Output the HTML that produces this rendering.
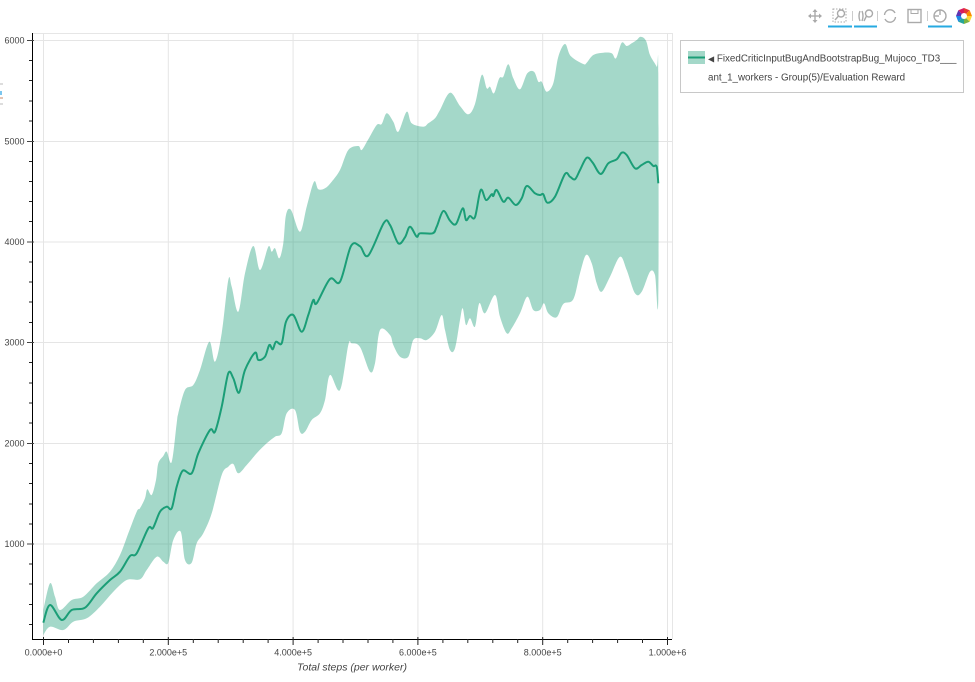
<!DOCTYPE html>
<html><head><meta charset="utf-8">
<style>
html,body{margin:0;padding:0;background:#fff;}
body{width:975px;height:682px;overflow:hidden;font-family:"Liberation Sans","DejaVu Sans",sans-serif;}
svg{display:block;}
</style></head>
<body>
<svg id="chart" width="975" height="682" viewBox="0 0 975 682" xmlns="http://www.w3.org/2000/svg">
<rect x="0" y="0" width="975" height="682" fill="#fff"/>
<!-- plot frame -->
<line x1="32" y1="33.5" x2="672" y2="33.5" stroke="#e6e6e6" stroke-width="1"/>
<line x1="672.5" y1="33" x2="672.5" y2="639" stroke="#e6e6e6" stroke-width="1"/>
<!-- grid -->
<g stroke="#e5e5e5" stroke-width="1">
<line x1="43.5" y1="33" x2="43.5" y2="639"/>
<line x1="168.3" y1="33" x2="168.3" y2="639"/>
<line x1="293.1" y1="33" x2="293.1" y2="639"/>
<line x1="417.9" y1="33" x2="417.9" y2="639"/>
<line x1="542.7" y1="33" x2="542.7" y2="639"/>
<line x1="667.5" y1="33" x2="667.5" y2="639"/>
<line x1="32" y1="40.5" x2="672" y2="40.5"/>
<line x1="32" y1="141.5" x2="672" y2="141.5"/>
<line x1="32" y1="242" x2="672" y2="242"/>
<line x1="32" y1="342.5" x2="672" y2="342.5"/>
<line x1="32" y1="443.5" x2="672" y2="443.5"/>
<line x1="32" y1="544" x2="672" y2="544"/>
</g>
<!-- band -->
<polygon class="smooth" data-closed="1" fill="#1b9e77" fill-opacity="0.4" points="
43.3,610 50,583.3 55,596.7 60,610 71.7,600 83.3,596.7 96.7,583.3 110,571.7 120,555 128.3,533.3 136.7,511.7 140,508.3 145,498.3 147.3,489.3 151.7,495 156,480 158.3,463.3 163.3,456 166.7,451.7 171.7,462 176.7,423.3 178.3,413.3 185,390 193.3,385 200,370 209.3,341.7 215,361.7 221.7,333.3 228.3,280 231.7,286.7 238.3,311.7 245,273.3 253.3,246 260,270 268.3,246.7 271.7,251.7 275,248.3 279.3,258.3 283.3,243.3 286,215 291,210 300,231.7 306.7,206.7 314,181.7 318.3,189.3 325,188.3 331.7,181.7 340,170 348.3,150 358.3,146 361.7,150 368.3,139.3 376.7,125 381.7,124 386.7,113.3 393.3,121.7 398.3,131.7 406.7,111.7 411.7,123.3 423.3,126.7 428.3,123.3 435,118.3 440,110 450,92.7 460,106 468.3,114.3 475,104 481.7,75 486.7,88.3 490,86.7 494,93.3 499.3,78.3 503.3,76.7 508.3,64.3 513.3,78.3 520,89.3 527.3,73.3 534,71.7 538.3,81.7 541.7,81.7 546.7,91.7 553.3,83.3 558.3,56.7 565,44 570.7,56 583.3,64 586.7,62.7 593.3,55 603.3,52.7 611.7,53.3 616,58.3 621.7,42.7 626.7,46 631.7,43.3 636.7,40 640.7,36.7 646,40.7 650,55 656.7,66.7 658.3,73.3
658.3,298.3 655,275 650,271.7 641.7,291.7 635,293.3 626.7,270 620,256.7 610,276.7 601.7,291.7 596.7,283.3 591.7,263.3 586,255 580,273.3 573.3,299.3 563.3,304 556.7,317.3 548.3,313.3 544,303.3 540,310 533.3,310 527.3,296.7 520,313.3 511.7,328.3 506.7,333.3 500,316.7 495,295 485,313.3 479.3,303.3 475,326.7 470,318.3 466,325 462.7,308.3 460,320 455,348.3 450,350 445,330 441.7,315 435,331.7 426.7,340 420,338.3 413.3,340 408.3,356.7 400,356.7 393.3,345 390,335 380,330 375,363.3 370,371.7 360,347 351.7,343.3 348.3,345 340,390 330,375 325,400 320,413.3 311.7,420 305,431.7 300,431.7 295,410 286.7,413.3 281.7,433.3 275,436.7 266.7,443.3 256.7,453.3 246.7,465 238.3,473.3 233.3,464 228.3,466.7 221.7,475 211.7,513.3 203.3,533.3 196.7,543.3 191.7,562.7 185,560 180.7,531.7 173.3,540 168.3,562.7 163.3,561.7 156.7,556.7 146.7,570 140,579.3 126.7,580 113.3,591.7 100,606.7 86.7,618.3 73.3,621.7 63.3,630 50,626.7 43.3,635"/>
<!-- mean line -->
<polyline class="smooth" fill="none" stroke="#1b9e77" stroke-width="2" stroke-linejoin="round" points="
43.3,622.7 50,605 61.7,620 71.7,610 85,607.7 96.7,593.3 110,580 120,571.7 130,556 136.7,553.3 148.3,528.3 153,528 160,511.7 166.7,506.7 171.7,508.3 176.7,486.7 182.7,470.7 191.7,473.3 198.3,453.3 210,430 215,431.7 221.7,406.7 228.3,373.3 233.3,378.3 239,392.7 245,370 255,352.7 258.3,360 265,356.7 269.3,345 272.7,349.3 276,341.7 281.7,343.3 286,321.7 293.3,315 301.7,331.7 308.3,315 313.3,300 316.7,303.3 330,279 340,281.7 351,246 360,246.3 368.3,255.5 384,222.7 390,225 398.3,243.3 405,237.3 410,226.7 416.7,236.7 420,233.3 432.7,233.3 436.7,226.7 443.3,211 450,220.7 456,224 462.7,208.3 466,220 470,216 475,217 480.7,190 486,200 491.7,194.3 493.3,196 496.7,190 503.3,201.7 508.3,197.7 515.7,205 521.7,198.3 526.7,186 535,193.3 540,195 543.3,194.3 547.3,202.7 555,196.7 565,174 570,176.7 575,179.3 580,170 586.7,157.7 592.7,162.7 600.7,174 608.3,163.3 616.7,159.3 621.7,152.7 626.7,155 635,168.3 641.7,165 648.3,161.7 653.3,166 656.7,166.7 658.3,183.3"/>
<!-- axes -->
<line x1="32.5" y1="33" x2="32.5" y2="639.5" stroke="#000" stroke-width="1"/>
<line x1="32" y1="639.5" x2="672" y2="639.5" stroke="#000" stroke-width="1"/>
<!-- y ticks -->
<g stroke="#444" stroke-width="1">
<line x1="27" y1="40.5" x2="34" y2="40.5"/>
<line x1="27" y1="141.5" x2="34" y2="141.5"/>
<line x1="27" y1="242" x2="34" y2="242"/>
<line x1="27" y1="342.5" x2="34" y2="342.5"/>
<line x1="27" y1="443.5" x2="34" y2="443.5"/>
<line x1="27" y1="544" x2="34" y2="544"/>
</g>
<g stroke="#222" stroke-width="1">
<line x1="29" y1="60.5" x2="32" y2="60.5"/><line x1="29" y1="80.5" x2="32" y2="80.5"/><line x1="29" y1="101" x2="32" y2="101"/><line x1="29" y1="121" x2="32" y2="121"/>
<line x1="29" y1="161.5" x2="32" y2="161.5"/><line x1="29" y1="181.5" x2="32" y2="181.5"/><line x1="29" y1="201.5" x2="32" y2="201.5"/><line x1="29" y1="221.5" x2="32" y2="221.5"/>
<line x1="29" y1="262" x2="32" y2="262"/><line x1="29" y1="282" x2="32" y2="282"/><line x1="29" y1="302" x2="32" y2="302"/><line x1="29" y1="322.5" x2="32" y2="322.5"/>
<line x1="29" y1="362.5" x2="32" y2="362.5"/><line x1="29" y1="383" x2="32" y2="383"/><line x1="29" y1="403" x2="32" y2="403"/><line x1="29" y1="423" x2="32" y2="423"/>
<line x1="29" y1="463.5" x2="32" y2="463.5"/><line x1="29" y1="483.5" x2="32" y2="483.5"/><line x1="29" y1="504" x2="32" y2="504"/><line x1="29" y1="524" x2="32" y2="524"/>
<line x1="29" y1="564" x2="32" y2="564"/><line x1="29" y1="584" x2="32" y2="584"/><line x1="29" y1="604.5" x2="32" y2="604.5"/><line x1="29" y1="624.5" x2="32" y2="624.5"/>
</g>
<!-- x ticks -->
<g stroke="#222" stroke-width="1">
<line x1="43.5" y1="637" x2="43.5" y2="645"/><line x1="168.3" y1="637" x2="168.3" y2="645"/><line x1="293.1" y1="637" x2="293.1" y2="645"/><line x1="417.9" y1="637" x2="417.9" y2="645"/><line x1="542.7" y1="637" x2="542.7" y2="645"/><line x1="667.5" y1="637" x2="667.5" y2="645"/>
<line x1="68.5" y1="639" x2="68.5" y2="643"/><line x1="93.4" y1="639" x2="93.4" y2="643"/><line x1="118.4" y1="639" x2="118.4" y2="643"/><line x1="143.3" y1="639" x2="143.3" y2="643"/>
<line x1="193.3" y1="639" x2="193.3" y2="643"/><line x1="218.2" y1="639" x2="218.2" y2="643"/><line x1="243.2" y1="639" x2="243.2" y2="643"/><line x1="268.1" y1="639" x2="268.1" y2="643"/>
<line x1="318.1" y1="639" x2="318.1" y2="643"/><line x1="343" y1="639" x2="343" y2="643"/><line x1="368" y1="639" x2="368" y2="643"/><line x1="392.9" y1="639" x2="392.9" y2="643"/>
<line x1="442.9" y1="639" x2="442.9" y2="643"/><line x1="467.8" y1="639" x2="467.8" y2="643"/><line x1="492.8" y1="639" x2="492.8" y2="643"/><line x1="517.7" y1="639" x2="517.7" y2="643"/>
<line x1="567.7" y1="639" x2="567.7" y2="643"/><line x1="592.6" y1="639" x2="592.6" y2="643"/><line x1="617.6" y1="639" x2="617.6" y2="643"/><line x1="642.5" y1="639" x2="642.5" y2="643"/>
</g>
<!-- tick labels -->
<g font-family="Liberation Sans, sans-serif" font-size="9px" fill="#444" text-anchor="end">
<text x="24.5" y="43.5">6000</text>
<text x="24.5" y="144.5">5000</text>
<text x="24.5" y="245">4000</text>
<text x="24.5" y="345.5">3000</text>
<text x="24.5" y="446.5">2000</text>
<text x="24.5" y="547">1000</text>
</g>
<g font-family="Liberation Sans, sans-serif" font-size="9px" fill="#444" text-anchor="middle">
<text x="43.5" y="655.5">0.000e+0</text>
<text x="168.3" y="655.5">2.000e+5</text>
<text x="293.1" y="655.5">4.000e+5</text>
<text x="417.9" y="655.5">6.000e+5</text>
<text x="542.7" y="655.5">8.000e+5</text>
<text x="667.5" y="655.5">1.000e+6</text>
</g>
<text x="352" y="670.5" font-family="Liberation Sans, sans-serif" font-size="10.5px" font-style="italic" fill="#444" text-anchor="middle">Total steps (per worker)</text>
<!-- legend -->
<rect x="680.5" y="40.5" width="283" height="52" fill="#fff" stroke="#c8c8c8" stroke-width="1"/>
<rect x="688" y="51" width="17" height="13" fill="#1b9e77" fill-opacity="0.4"/>
<line x1="688" y1="57.5" x2="705" y2="57.5" stroke="#1b9e77" stroke-width="2"/>
<text x="708" y="61.5" font-family="Liberation Sans, DejaVu Sans, sans-serif" font-size="9.8px" fill="#444"><tspan font-family="DejaVu Sans, sans-serif" font-size="8px">◀</tspan> FixedCriticInputBugAndBootstrapBug_Mujoco_TD3___</text>
<text x="708" y="80.5" font-family="Liberation Sans, sans-serif" font-size="9.8px" fill="#444">ant_1_workers - Group(5)/Evaluation Reward</text>
<!-- toolbar -->
<g stroke="#aaa" fill="none" stroke-width="1.4">
<line x1="809" y1="16" x2="821" y2="16"/><line x1="815" y1="10" x2="815" y2="22"/>
<polygon points="808,16 811,13.5 811,18.5" fill="#aaa" stroke="none"/>
<polygon points="822,16 819,13.5 819,18.5" fill="#aaa" stroke="none"/>
<polygon points="815,9 812.5,12 817.5,12" fill="#aaa" stroke="none"/>
<polygon points="815,23 812.5,20 817.5,20" fill="#aaa" stroke="none"/>
<rect x="833" y="9" width="13" height="13" stroke-dasharray="1.5,1.5" stroke-width="1"/>
<circle cx="841" cy="13.5" r="3.5"/><line x1="838.5" y1="16" x2="835" y2="20"/>
<path d="M860,11 q-2,5 0,10 M862,11 q2,5 0,10"/>
<circle cx="869" cy="13.5" r="3.5"/><line x1="866.5" y1="16" x2="864" y2="21"/>
<path d="M884.5,15 a5.5,5.5 0 0 1 10.5,-2 M895.5,17 a5.5,5.5 0 0 1 -10.5,2"/>
<rect x="908" y="9.5" width="13" height="13"/><rect x="911" y="9.5" width="7" height="4" stroke-width="1"/>
<circle cx="940" cy="16" r="6"/><line x1="940" y1="10" x2="940" y2="15"/><line x1="934" y1="16" x2="939" y2="16"/>
</g>
<g stroke="#ccc" stroke-width="1">
<line x1="852.5" y1="11" x2="852.5" y2="21"/><line x1="877.5" y1="11" x2="877.5" y2="21"/><line x1="927.5" y1="11" x2="927.5" y2="21"/>
</g>
<g stroke="#26aae1" stroke-width="2">
<line x1="828" y1="26.5" x2="852" y2="26.5"/>
<line x1="854" y1="26.5" x2="877" y2="26.5"/>
<line x1="928" y1="26.5" x2="952" y2="26.5"/>
</g>
<g transform="translate(964,16)">
<path d="M0,-8 L5.7,-5.7 L0,0Z" fill="#e53935"/>
<path d="M5.7,-5.7 L8,0 L0,0Z" fill="#fb8c00"/>
<path d="M8,0 L5.7,5.7 L0,0Z" fill="#fdd835"/>
<path d="M5.7,5.7 L0,8 L0,0Z" fill="#7cb342"/>
<path d="M0,8 L-5.7,5.7 L0,0Z" fill="#26a69a"/>
<path d="M-5.7,5.7 L-8,0 L0,0Z" fill="#1e88e5"/>
<path d="M-8,0 L-5.7,-5.7 L0,0Z" fill="#5e35b1"/>
<path d="M-5.7,-5.7 L0,-8 L0,0Z" fill="#d81b60"/>
<circle cx="0" cy="0" r="3" fill="#fff"/>
</g>
<line x1="0" y1="84" x2="3" y2="84" stroke="#bbb" stroke-width="1"/>
<rect x="0" y="91" width="2" height="4" fill="#7cc6ee"/>
<line x1="0" y1="98" x2="3" y2="98" stroke="#c98a6a" stroke-width="1"/>
<line x1="0" y1="104" x2="3" y2="104" stroke="#bbb" stroke-width="1"/>
</svg>
<script>
(function(){
  var ns="http://www.w3.org/2000/svg";
  var els=document.querySelectorAll('.smooth');
  for(var i=0;i<els.length;i++){
    var el=els[i];
    var raw=el.getAttribute('points').trim().split(/\s+/);
    var p=raw.map(function(s){var a=s.split(',');return [parseFloat(a[0]),parseFloat(a[1])];});
    var closed=el.getAttribute('data-closed')==='1';
    var d='M'+p[0][0]+','+p[0][1];
    var t=0.5/3;
    for(var k=0;k<p.length-1;k++){
      var p0=p[k-1]||p[k], p1=p[k], p2=p[k+1], p3=p[k+2]||p[k+1];
      var c1x=p1[0]+(p2[0]-p0[0])*t, c1y=p1[1]+(p2[1]-p0[1])*t;
      var c2x=p2[0]-(p3[0]-p1[0])*t, c2y=p2[1]-(p3[1]-p1[1])*t;
      d+=' C'+c1x.toFixed(2)+','+c1y.toFixed(2)+' '+c2x.toFixed(2)+','+c2y.toFixed(2)+' '+p2[0]+','+p2[1];
    }
    if(closed) d+=' Z';
    var path=document.createElementNS(ns,'path');
    path.setAttribute('d',d);
    ['fill','fill-opacity','stroke','stroke-width','stroke-linejoin'].forEach(function(a){
      if(el.hasAttribute(a)) path.setAttribute(a,el.getAttribute(a));
    });
    el.parentNode.replaceChild(path,el);
  }
})();
</script>
</body></html>
